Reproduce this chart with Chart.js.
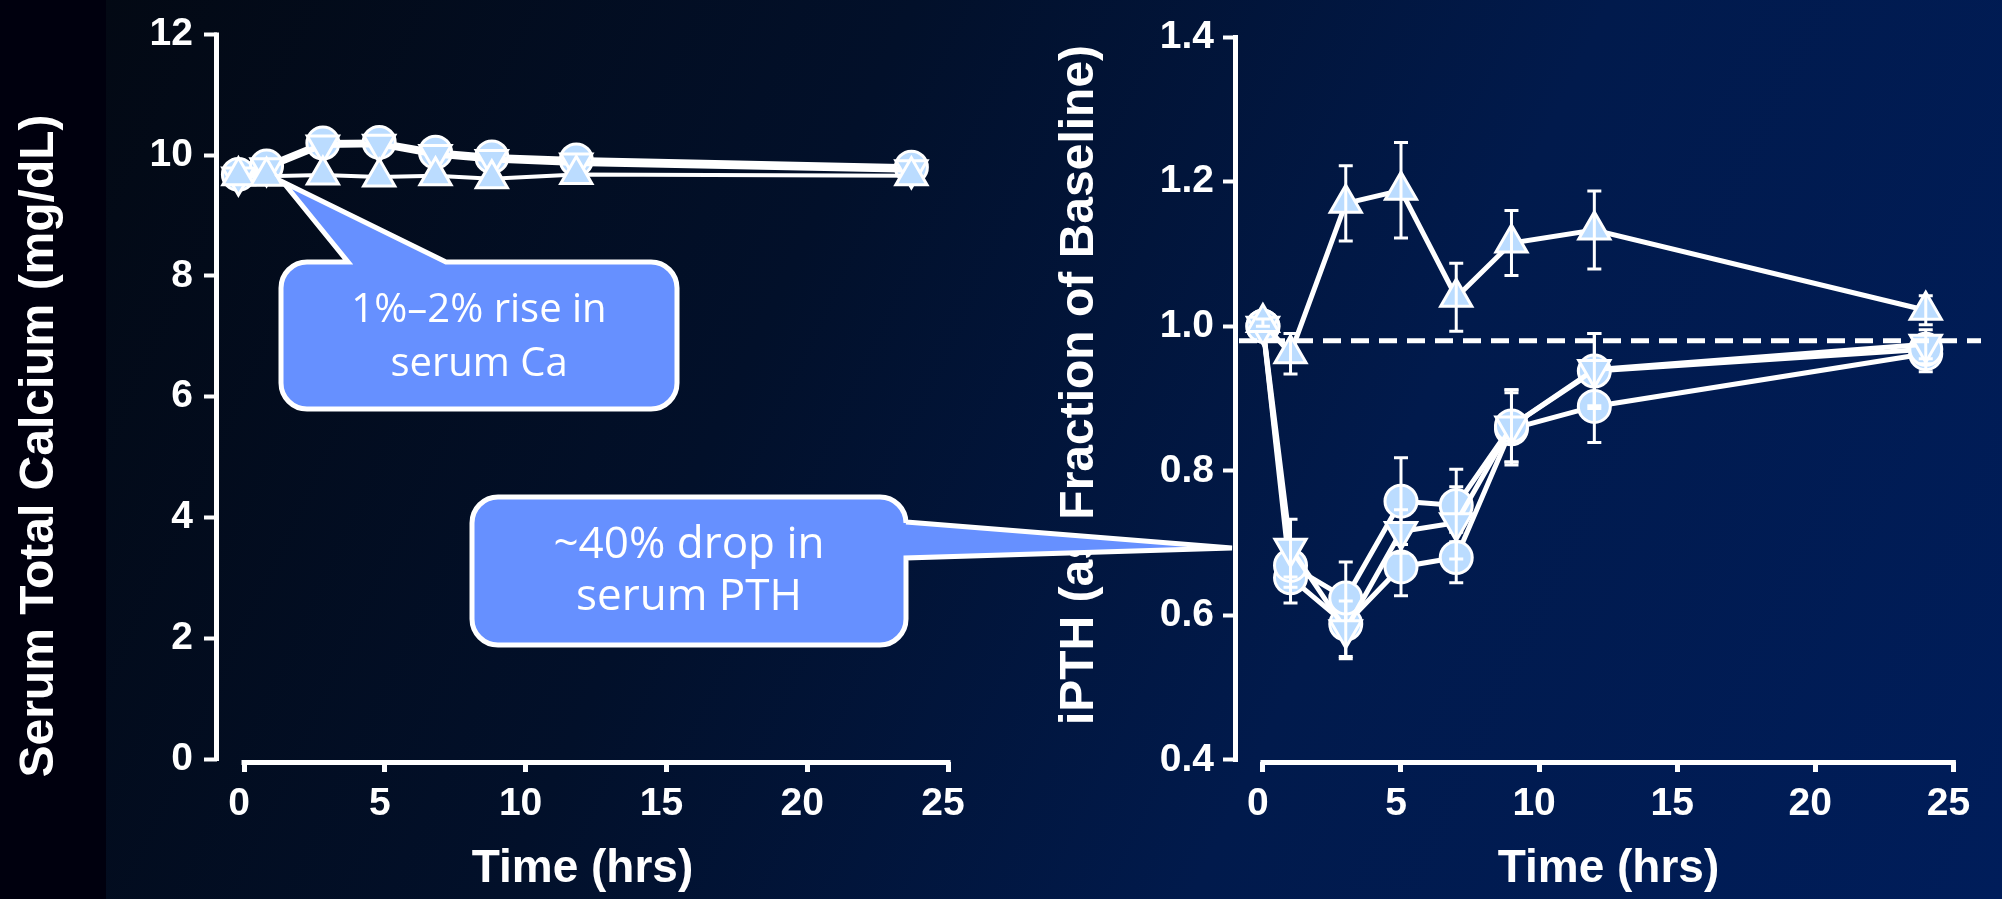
<!DOCTYPE html>
<html><head><meta charset="utf-8">
<script src="https://cdn.jsdelivr.net/npm/chart.js@4.4.1/dist/chart.umd.min.js"></script>
<style>
html,body{margin:0;padding:0;width:2002px;height:899px;overflow:hidden;background:#00000e;}
#bg{position:absolute;left:106px;top:0;width:1896px;height:899px;
  background:linear-gradient(115deg,#030914 0%,#02102a 35%,#011a4c 65%,#001d5a 100%);}
canvas{position:absolute;left:0;top:0;}
#cR{z-index:1}
#cL{z-index:2}
</style></head><body>
<div id="bg"></div>
<canvas id="cR" width="2002" height="899"></canvas>
<canvas id="cL" width="2002" height="899"></canvas>
<script>
// ---------- data ----------
const timeTicks = [0, 5, 10, 15, 20, 25];
const caTicks = [0, 2, 4, 6, 8, 10, 12];
const pthTicks = [0.4, 0.6, 0.8, 1.0, 1.2, 1.4];

const caTimes  = [-0.2, 0.8, 2.8, 4.8, 6.8, 8.8, 11.8, 23.7];
const caCircle = [9.68, 9.82, 10.20, 10.21, 10.05, 9.97, 9.92, 9.80];
const caDown   = [9.64, 9.79, 10.17, 10.18, 10.01, 9.93, 9.87, 9.76];
const caUp     = [9.66, 9.65, 9.67, 9.64, 9.66, 9.61, 9.68, 9.66];

const pthTimes   = [0, 1, 3, 5, 7, 9, 12, 24];
const pthUp      = [1.005, 0.962, 1.170, 1.188, 1.040, 1.115, 1.133, 1.022];
const pthUpErr   = [0.005, 0.028, 0.052, 0.066, 0.047, 0.045, 0.054, 0.020];
const pthDown    = [1.000, 0.693, 0.580, 0.716, 0.728, 0.862, 0.940, 0.975];
const pthDownErr = [0.005, 0.040, 0.040, 0.030, 0.050, 0.050, 0.050, 0.020];
const pthCircA   = [1.000, 0.669, 0.624, 0.758, 0.752, 0.862, 0.938, 0.968];
const pthCircAErr= [0.005, 0.030, 0.050, 0.060, 0.050, 0.050, 0.052, 0.020];
const pthCircB   = [1.000, 0.652, 0.588, 0.667, 0.680, 0.858, 0.889, 0.962];
const pthCircBErr= [0.005, 0.035, 0.045, 0.040, 0.035, 0.050, 0.050, 0.025];
const pthBaseline = 0.98;

// ---------- helpers ----------
const FONT = '"Liberation Sans", Arial, sans-serif';
const MARK_FILL = '#bbdcff';

function series(label, xs, ys, style, rot, radius, lw, errs) {
  return {
    label, data: xs.map((t, i) => ({x: t, y: ys[i]})),
    showLine: true, tension: 0, borderColor: '#ffffff', borderWidth: lw,
    pointStyle: style, pointRotation: rot, pointRadius: radius,
    pointBackgroundColor: MARK_FILL, pointBorderColor: '#ffffff', pointBorderWidth: 3,
    clip: false, errors: errs || null
  };
}

const errorBars = {
  id: 'errorBars',
  afterDatasetDraw(chart, args) {
    const ds = chart.data.datasets[args.index];
    if (!ds.errors) return;
    const xs = chart.scales.x, ys = chart.scales.y, ctx = chart.ctx;
    ctx.save();
    ctx.strokeStyle = '#ffffff'; ctx.lineWidth = 3;
    ds.data.forEach((p, i) => {
      const e = ds.errors[i];
      if (!e) return;
      const px = xs.getPixelForValue(p.x);
      const y1 = ys.getPixelForValue(p.y + e), y2 = ys.getPixelForValue(p.y - e);
      ctx.beginPath();
      ctx.moveTo(px, y1); ctx.lineTo(px, y2);
      ctx.moveTo(px - 7, y1); ctx.lineTo(px + 7, y1);
      ctx.moveTo(px - 7, y2); ctx.lineTo(px + 7, y2);
      ctx.stroke();
    });
    ctx.restore();
  }
};

const axesLines = {
  id: 'axesLines',
  beforeDatasetsDraw(chart, args, opts) {
    const xs = chart.scales.x, ys = chart.scales.y, ctx = chart.ctx;
    const xt = opts.xTicks, yt = opts.yTicks;
    const l = chart.chartArea.left, b = chart.chartArea.bottom;
    ctx.save();
    ctx.strokeStyle = '#ffffff'; ctx.lineWidth = 5;
    ctx.beginPath();
    ctx.moveTo(l - 0.5, ys.getPixelForValue(yt[yt.length - 1]) - 2);
    ctx.lineTo(l - 0.5, ys.getPixelForValue(yt[0]) + 2);
    ctx.moveTo(xs.getPixelForValue(xt[0]) - 2.5, b + 0.5);
    ctx.lineTo(xs.getPixelForValue(xt[xt.length - 1]) + 2.5, b + 0.5);
    ctx.stroke();
    ctx.restore();
  }
};

const refLine = {
  id: 'refLine',
  afterDatasetsDraw(chart, args, opts) {
    if (opts.value === undefined) return;
    const ys = chart.scales.y, ctx = chart.ctx, ca = chart.chartArea;
    const py = ys.getPixelForValue(opts.value);
    ctx.save();
    ctx.strokeStyle = '#ffffff'; ctx.lineWidth = 5; ctx.setLineDash([18, 10]);
    ctx.beginPath(); ctx.moveTo(ca.left + 3, py); ctx.lineTo(ca.right, py); ctx.stroke();
    ctx.restore();
  }
};

const yTitle = {
  id: 'yTitle',
  afterDraw(chart, args, opts) {
    if (!opts.text) return;
    const ctx = chart.ctx;
    ctx.save();
    ctx.translate(opts.x, opts.y);
    ctx.rotate(-Math.PI / 2);
    ctx.font = 'bold 48px ' + FONT;
    ctx.fillStyle = '#ffffff'; ctx.textAlign = 'center'; ctx.textBaseline = 'middle';
    ctx.fillText(opts.text, 0, 0);
    ctx.restore();
  }
};

function calloutPath(ctx, c) {
  const {x, y, w, h, r} = c, p = c.pointer;
  ctx.beginPath();
  ctx.moveTo(x + r, y);
  if (p.side === 'top') { ctx.lineTo(p.a, y); ctx.lineTo(p.tx, p.ty); ctx.lineTo(p.b, y); }
  ctx.lineTo(x + w - r, y);
  ctx.arcTo(x + w, y, x + w, y + r, r);
  if (p.side === 'right') { ctx.lineTo(x + w, p.a); ctx.lineTo(p.tx, p.ty); ctx.lineTo(x + w, p.b); }
  ctx.lineTo(x + w, y + h - r);
  ctx.arcTo(x + w, y + h, x + w - r, y + h, r);
  ctx.lineTo(x + r, y + h);
  ctx.arcTo(x, y + h, x, y + h - r, r);
  ctx.lineTo(x, y + r);
  ctx.arcTo(x, y, x + r, y, r);
  ctx.closePath();
}

const callouts = {
  id: 'callouts',
  afterDraw(chart, args, opts) {
    const ctx = chart.ctx;
    (opts.items || []).forEach(c => {
      ctx.save();
      calloutPath(ctx, c);
      ctx.fillStyle = '#6690ff'; ctx.fill();
      ctx.strokeStyle = '#ffffff'; ctx.lineWidth = 5; ctx.lineJoin = 'miter'; ctx.miterLimit = 6;
      ctx.stroke();
      ctx.fillStyle = '#ffffff'; ctx.textAlign = 'center'; ctx.textBaseline = 'alphabetic';
      ctx.font = c.size + 'px "Open Sans", sans-serif';
      c.lines.forEach((t, i) => ctx.fillText(t, c.x + c.w / 2, c.base + i * c.lh));
      ctx.restore();
    });
  }
};

function axisOpts(ticks, fmt, min, max, fixW, fixH, withTitle, yPad) {
  const o = {
    type: 'linear', min, max,
    afterBuildTicks: s => { s.ticks = ticks.map(v => ({value: v})); },
    grid: {display: true, drawOnChartArea: false, drawTicks: true, tickLength: fixW ? 13 : 10,
           tickColor: '#ffffff', tickWidth: fixW ? 4 : 5, color: '#ffffff'},
    border: {display: false},
    ticks: {color: '#ffffff', font: {family: FONT, size: 39, weight: 'bold'}, padding: fixW ? yPad : 9,
            autoSkip: false, maxRotation: 0, callback: fmt, labelOffset: fixW ? 0 : -5}
  };
  if (fixW) o.afterFit = s => { s.width = fixW; };
  if (fixH) o.afterFit = s => { s.height = fixH; };
  if (withTitle) o.title = {display: true, text: 'Time (hrs)', color: '#ffffff',
                            font: {family: FONT, size: 46, weight: 'bold'}, padding: {top: 0, bottom: 2}};
  return o;
}

const common = (pad, xs, ys, plug) => ({
  responsive: false, animation: false, devicePixelRatio: 1,
  layout: {padding: pad},
  plugins: Object.assign({legend: {display: false}, tooltip: {enabled: false}}, plug),
  scales: {x: xs, y: ys}
});

// ---------- right chart (iPTH) ----------
const rightChart = new Chart(document.getElementById('cR'), {
  type: 'scatter',
  data: {datasets: [
    series('Up', pthTimes, pthUp, 'triangle', 0, 18, 5, pthUpErr),
    series('Down', pthTimes, pthDown, 'triangle', 180, 18, 5, pthDownErr),
    series('CircleA', pthTimes, pthCircA, 'circle', 0, 16, 5, pthCircAErr),
    series('CircleB', pthTimes, pthCircB, 'circle', 0, 16, 5, pthCircBErr)
  ]},
  options: common({left: 0, top: 37, right: 18, bottom: 0},
    axisOpts(timeTicks, v => String(v), -0.974, 26, 0, 137, true),
    axisOpts(pthTicks, v => Number(v).toFixed(1), 0.3972, 1.4, 1236, 0, false, 9),
    {axesLines: {xTicks: timeTicks, yTicks: pthTicks}, refLine: {value: pthBaseline},
     yTitle: {text: 'iPTH (as Fraction of Baseline)', x: 1080, y: 385}}),
  plugins: [axesLines, errorBars, refLine, yTitle]
});

// ---------- left chart (Calcium) + callouts ----------
const leftChart = new Chart(document.getElementById('cL'), {
  type: 'scatter',
  data: {datasets: [
    series('Up', caTimes, caUp, 'triangle', 0, 18, 4),
    series('Down', caTimes, caDown, 'triangle', 180, 18, 6),
    series('Circle', caTimes, caCircle, 'circle', 0, 16, 6)
  ]},
  options: common({left: 0, top: 33, right: 1054, bottom: 0},
    axisOpts(timeTicks, v => String(v), -0.96, 25, 0, 137, true),
    axisOpts(caTicks, v => String(v), -0.0496, 12, 217, 0, false, 11),
    {axesLines: {xTicks: timeTicks, yTicks: caTicks},
     yTitle: {text: 'Serum Total Calcium (mg/dL)', x: 40, y: 446},
     callouts: {items: [
       {x: 281, y: 262, w: 396, h: 147, r: 26, size: 40, lines: ['1%\u20132% rise in', 'serum Ca'], base: 322, lh: 54,
        pointer: {side: 'top', a: 348, b: 446, tx: 283, ty: 182}},
       {x: 472, y: 497, w: 434, h: 148, r: 26, size: 44, lines: ['~40% drop in', 'serum PTH'], base: 558, lh: 52,
        pointer: {side: 'right', a: 522, b: 558, tx: 1232, ty: 548}}
     ]}}),
  plugins: [axesLines, errorBars, yTitle, callouts]
});
</script>
</body></html>
